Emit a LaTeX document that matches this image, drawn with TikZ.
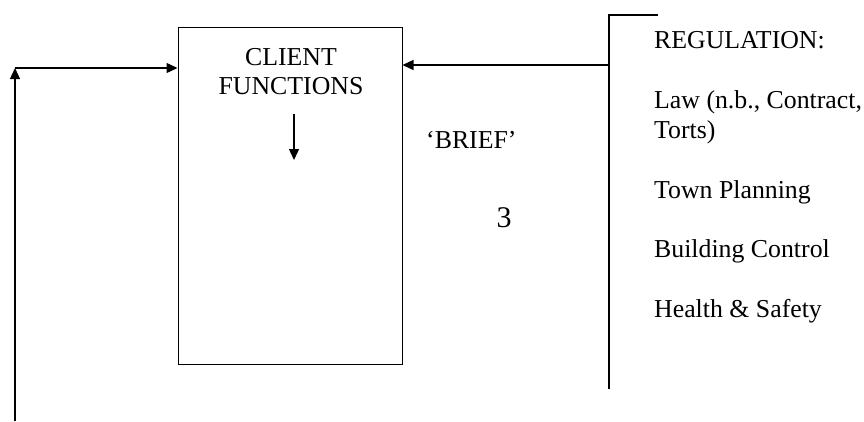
\documentclass[tikz,border=0pt]{standalone}
\usepackage{fontspec}
\setmainfont{Liberation Serif}
\usetikzlibrary{arrows.meta}
\tikzset{
  flow/.style={line width=1.3pt, -{Triangle[length=11pt,width=10pt]}},
  rule/.style={line width=1.3pt},
  label/.style={inner sep=0pt, font=\fontsize{25.8}{30}\selectfont},
  bignum/.style={inner sep=0pt, font=\fontsize{30}{36}\selectfont}
}
\begin{document}
\begin{tikzpicture}[x=1pt, y=-1pt]
    \useasboundingbox (0,0) rectangle (864,421);
    % Client box
    \node[draw, line width=1pt, minimum width=224pt, minimum height=337pt, inner sep=0pt] (client) at (290,195.5) {};
    \node[label, anchor=base] (clientA) at (291,65) {CLIENT};
    \node[label, anchor=base] (clientB) at (291,94) {FUNCTIONS};
    \node[label, anchor=base west] (brief) at (426,148) {‘BRIEF’};
    \node[bignum, anchor=base] (three) at (504,227) {3};
    % Regulation list
    \node[label, anchor=base west] (reg) at (654,48) {REGULATION:};
    \node[label, anchor=base west] (law) at (654,108) {Law (n.b., Contract,};
    \node[label, anchor=base west] (torts) at (654,138) {Torts)};
    \node[label, anchor=base west] (town) at (654,198) {Town Planning};
    \node[label, anchor=base west] (build) at (654,257) {Building Control};
    \node[label, anchor=base west] (health) at (654,317) {Health \& Safety};
    % Points
    \coordinate (loopend) at (15,421);
    \coordinate (corner) at (15,68);
    \coordinate (regtop) at (658,15);
    \coordinate (regbot) at (609,389);
    \coordinate (regarrow) at (609,65);
    \coordinate (flowtop) at (294,114);
    \coordinate (flowbot) at (294,160);
    % Connectors
    \draw[flow] (loopend) -- (corner);
    \draw[flow] (corner) -- (client.west |- corner);
    \draw[rule] (regtop) -| (regbot);
    \draw[flow] (regarrow) -- (client.east |- regarrow);
    \draw[flow] (flowtop) -- (flowbot);
\end{tikzpicture}
\end{document}
